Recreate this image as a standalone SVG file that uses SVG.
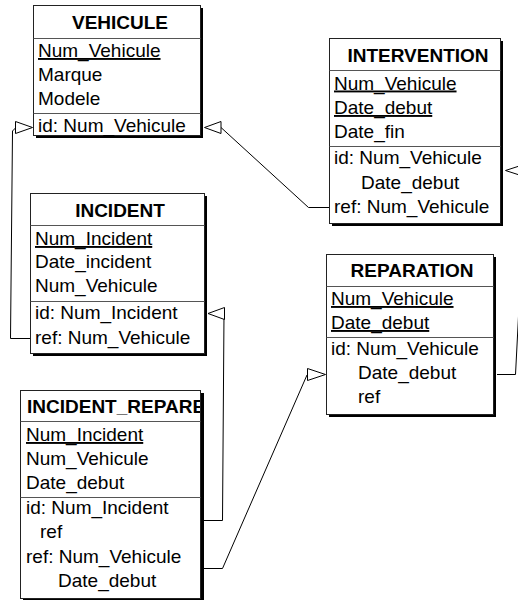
<svg xmlns="http://www.w3.org/2000/svg" width="518" height="600" viewBox="0 0 518 600">
  <style>
    .shadow { fill: #000; }
    .box { fill: #fff; stroke: #222; stroke-width: 1; }
    .sep { stroke: #555; stroke-width: 1; }
    .title { font-family: "Liberation Sans", Arial, sans-serif; font-size: 19px; font-weight: bold; fill: #000; text-anchor: middle; }
    .attr { font-family: "Liberation Sans", Arial, sans-serif; font-size: 19px; fill: #000; }
    .pk { text-decoration: underline; }
    .link { fill: none; stroke: #000; stroke-width: 1; }
    .head { fill: #fff; stroke: #000; stroke-width: 1; }
  </style>
  <defs>
    <clipPath id="clip-incident-repare">
      <rect x="20" y="390" width="180" height="32"/>
    </clipPath>
  </defs>

  <rect width="518" height="600" fill="#fff"/>

  <!-- connectors: foreign key references with open arrowheads -->
  <g id="connectors">
    <polyline class="link" points="329.5,207.5 308.5,207.5 221,127.5"/>
    <polygon class="head" points="204.5,127.5 221,121.5 221,133.5"/>

    <polyline class="link" points="30,338.5 10.5,338.5 12.5,131 16,127.5"/>
    <polygon class="head" points="32.5,127.5 15.5,121.5 15.5,133.5"/>

    <polyline class="link" points="497,374.5 515.5,374.5 526,170.5"/>
    <polygon class="head" points="505.5,170.5 524,164.5 524,176.5"/>

    <polyline class="link" points="204,520.5 222.5,520.5 224,313.5"/>
    <polygon class="head" points="208,313.5 224.5,307.5 224.5,319.5"/>

    <polyline class="link" points="204,568.5 222.5,568.5 307,375"/>
    <polygon class="head" points="325.5,374.5 307.5,368.5 307.5,380.5"/>
  </g>

  <!-- VEHICULE -->
  <g id="vehicule">
    <rect class="shadow" x="36" y="8" width="167" height="130"/>
    <rect class="box" x="33.5" y="5.5" width="167" height="130"/>
    <line class="sep" x1="33.5" y1="38.5" x2="200.5" y2="38.5"/>
    <line class="sep" x1="33.5" y1="113.5" x2="200.5" y2="113.5"/>
    <text class="title" x="120" y="29">VEHICULE</text>
    <text class="attr pk" x="38" y="57">Num_Vehicule</text>
    <text class="attr" x="38" y="81">Marque</text>
    <text class="attr" x="38" y="105">Modele</text>
    <text class="attr" x="38" y="132">id: Num_Vehicule</text>
  </g>

  <!-- INTERVENTION -->
  <g id="intervention">
    <rect class="shadow" x="332" y="41" width="171" height="185"/>
    <rect class="box" x="329.5" y="38.5" width="171" height="185"/>
    <line class="sep" x1="329.5" y1="70.5" x2="500.5" y2="70.5"/>
    <line class="sep" x1="329.5" y1="146.5" x2="500.5" y2="146.5"/>
    <text class="title" x="418" y="62">INTERVENTION</text>
    <text class="attr pk" x="334" y="89.5">Num_Vehicule</text>
    <text class="attr pk" x="334" y="114">Date_debut</text>
    <text class="attr" x="334" y="138">Date_fin</text>
    <text class="attr" x="334" y="164">id: Num_Vehicule</text>
    <text class="attr" x="361" y="188.5">Date_debut</text>
    <text class="attr" x="334" y="213">ref: Num_Vehicule</text>
  </g>

  <!-- INCIDENT -->
  <g id="incident">
    <rect class="shadow" x="33" y="196" width="174" height="160"/>
    <rect class="box" x="30.5" y="193.5" width="174" height="160"/>
    <line class="sep" x1="30.5" y1="225.5" x2="204.5" y2="225.5"/>
    <line class="sep" x1="30.5" y1="301.5" x2="204.5" y2="301.5"/>
    <text class="title" x="120" y="217">INCIDENT</text>
    <text class="attr pk" x="35" y="245">Num_Incident</text>
    <text class="attr" x="35" y="268">Date_incident</text>
    <text class="attr" x="35" y="292">Num_Vehicule</text>
    <text class="attr" x="35" y="319">id: Num_Incident</text>
    <text class="attr" x="35" y="344">ref: Num_Vehicule</text>
  </g>

  <!-- REPARATION -->
  <g id="reparation">
    <rect class="shadow" x="329" y="257" width="167" height="160"/>
    <rect class="box" x="326.5" y="254.5" width="167" height="160"/>
    <line class="sep" x1="326.5" y1="286.5" x2="493.5" y2="286.5"/>
    <line class="sep" x1="326.5" y1="337.5" x2="493.5" y2="337.5"/>
    <text class="title" x="412" y="277">REPARATION</text>
    <text class="attr pk" x="331" y="305">Num_Vehicule</text>
    <text class="attr pk" x="331" y="329">Date_debut</text>
    <text class="attr" x="331" y="355">id: Num_Vehicule</text>
    <text class="attr" x="358" y="379">Date_debut</text>
    <text class="attr" x="358" y="403">ref</text>
  </g>

  <!-- INCIDENT_REPARE -->
  <g id="incident-repare">
    <rect class="shadow" x="23" y="393" width="181" height="208"/>
    <rect class="box" x="20.5" y="390.5" width="180" height="208"/>
    <line class="sep" x1="20.5" y1="421.5" x2="200.5" y2="421.5"/>
    <line class="sep" x1="20.5" y1="497.5" x2="200.5" y2="497.5"/>
    <text class="title" x="27" y="413" style="text-anchor: start" clip-path="url(#clip-incident-repare)">INCIDENT_REPARE</text>
    <text class="attr pk" x="26" y="441">Num_Incident</text>
    <text class="attr" x="26" y="465">Num_Vehicule</text>
    <text class="attr" x="26" y="489">Date_debut</text>
    <text class="attr" x="26" y="514">id: Num_Incident</text>
    <text class="attr" x="40" y="538">ref</text>
    <text class="attr" x="26" y="563">ref: Num_Vehicule</text>
    <text class="attr" x="58" y="587">Date_debut</text>
  </g>
</svg>
